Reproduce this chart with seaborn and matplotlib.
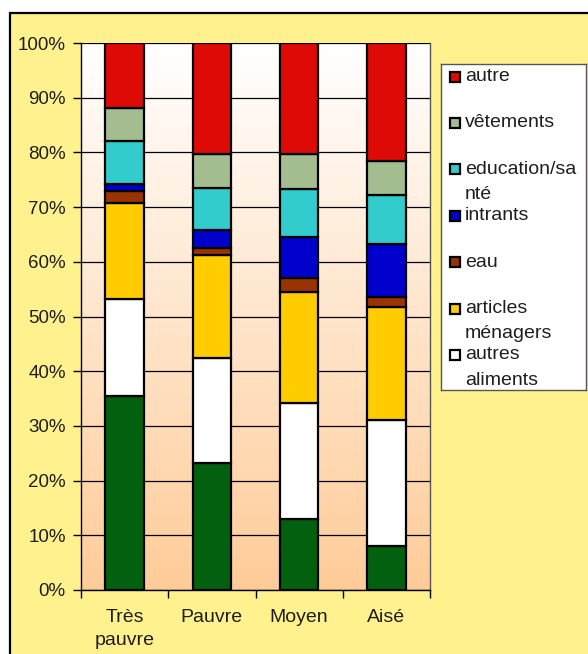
import numpy as np
import pandas as pd
import matplotlib
matplotlib.use("Agg")
import matplotlib.pyplot as plt
from matplotlib.patches import Rectangle
from matplotlib.ticker import FixedLocator, FuncFormatter
import seaborn as sns

# Household spending shares by wealth group (% of total, stacked bottom to top)
categories = ["Très\npauvre", "Pauvre", "Moyen", "Aisé"]
aliments_de_base = [35.5, 23.3, 13.0, 8.1]
autres_aliments = [17.7, 19.2, 21.1, 22.9]
articles_menagers = [17.6, 18.7, 20.4, 20.7]
eau = [2.1, 1.4, 2.5, 1.9]
intrants = [1.4, 3.3, 7.5, 9.7]
education_sante = [7.8, 7.6, 8.9, 9.0]
vetements = [6.0, 6.2, 6.3, 6.2]
autre = [11.9, 20.3, 20.3, 21.5]

series_names = ["aliments de base", "autres aliments", "articles ménagers",
                "eau", "intrants", "education/santé", "vêtements", "autre"]
series_values = [aliments_de_base, autres_aliments, articles_menagers, eau,
                 intrants, education_sante, vetements, autre]
series_colors = ["#02600F", "#FFFFFF", "#FFCC00", "#993300",
                 "#0000CC", "#33CCCC", "#A3BD90", "#DD0A06"]

# Legend entries (top to bottom), wrapped as in the chart box
legend_labels = ["autre", "vêtements", "education/sa\nnté", "intrants",
                 "eau", "articles\nménagers", "autres\naliments"]
legend_colors = ["#DD0A06", "#A3BD90", "#33CCCC", "#0000CC",
                 "#993300", "#FFCC00", "#FFFFFF"]

sns.set_theme(style="white")
plt.rcParams["font.family"] = ["Liberation Sans", "DejaVu Sans"]
text_color = "#1E1E1E"

W, H = 588, 654
fig = plt.figure(figsize=(W / 100, H / 100), dpi=100)
fig.patch.set_facecolor("white")

# Yellow chart frame (only top and left borders are visible)
frame = Rectangle((10 / W, -0.1), 1.2, 1 - 13 / H + 0.1,
                  transform=fig.transFigure, facecolor="#FFF28E",
                  edgecolor="black", linewidth=1.6, zorder=-10)
fig.patches.append(frame)

ax = fig.add_axes([81 / W, 1 - 590 / H, 349 / W, 547 / H])
ax.set_facecolor("none")

# Vertical white-to-peach gradient in the plot area
grad = np.linspace(0, 1, 256)[:, None]
top = np.array([1.0, 1.0, 1.0])
bottom = np.array([1.0, 0.80, 0.60])
img = top[None, None, :] * (1 - grad[:, :, None]) + bottom[None, None, :] * grad[:, :, None]
ax.imshow(img, extent=(-0.5, 3.5, 0, 100), aspect="auto", zorder=0.1,
          interpolation="bilinear")

df = pd.DataFrame({"cat": categories})
base = np.zeros(len(categories))
for name, vals, col in zip(series_names, series_values, series_colors):
    df["val"] = vals
    sns.barplot(data=df, x="cat", y="val", bottom=base, color=col, width=0.44,
                edgecolor="black", linewidth=1.6, saturation=1, ax=ax,
                zorder=2)
    base = base + np.array(vals)

ax.set_xlim(-0.5, 3.5)
ax.set_ylim(0, 100)
ax.set_xlabel("")
ax.set_ylabel("")

ax.yaxis.set_major_locator(FixedLocator(np.arange(0, 101, 10)))
ax.yaxis.set_major_formatter(FuncFormatter(lambda v, p: f"{int(round(v))}%"))
ax.yaxis.grid(True, color="black", linewidth=0.9, zorder=0.5)
ax.set_axisbelow(True)
for gl in ax.get_ygridlines():
    gl.set_zorder(0.5)

ax.xaxis.set_minor_locator(FixedLocator([-0.5, 0.5, 1.5, 2.5, 3.5]))
ax.tick_params(axis="x", which="major", length=0, pad=14,
               labelsize=14, labelcolor=text_color)
ax.tick_params(axis="x", which="minor", length=6, width=1, color="black",
               direction="out", bottom=True)
ax.tick_params(axis="y", which="major", length=6, width=1, color="black",
               direction="out", left=True, pad=5, labelsize=13.5,
               labelcolor=text_color)
for lbl in ax.get_xticklabels():
    lbl.set_verticalalignment("top")
    lbl.set_linespacing(1.4)

for side in ["left", "bottom", "right"]:
    ax.spines[side].set_visible(True)
    ax.spines[side].set_color("black")
    ax.spines[side].set_linewidth(1.0)
ax.spines["right"].set_color("#555555")
ax.spines["top"].set_visible(False)

# Legend box drawn as its own panel
lax = fig.add_axes([441 / W, 1 - 390 / H, 145 / W, 326 / H])
lax.set_xlim(441, 586)
lax.set_ylim(390, 64)
lax.set_xticks([])
lax.set_yticks([])
lax.set_facecolor("white")
for s in lax.spines.values():
    s.set_visible(True)
    s.set_color("#555555")
    s.set_linewidth(1.0)

entry_y0, entry_step, line_step = 76.5, 46.4, 25.5
for i, (lab, col) in enumerate(zip(legend_labels, legend_colors)):
    y = entry_y0 + i * entry_step
    lax.add_patch(Rectangle((450, y - 5), 10, 10, facecolor=col,
                            edgecolor="black", linewidth=1.6))
    for j, line in enumerate(lab.split("\n")):
        lax.text(465, y + j * line_step, line, fontsize=14, color=text_color,
                 va="center", ha="left")

fig.savefig("out.png", dpi=100, facecolor=fig.get_facecolor())
